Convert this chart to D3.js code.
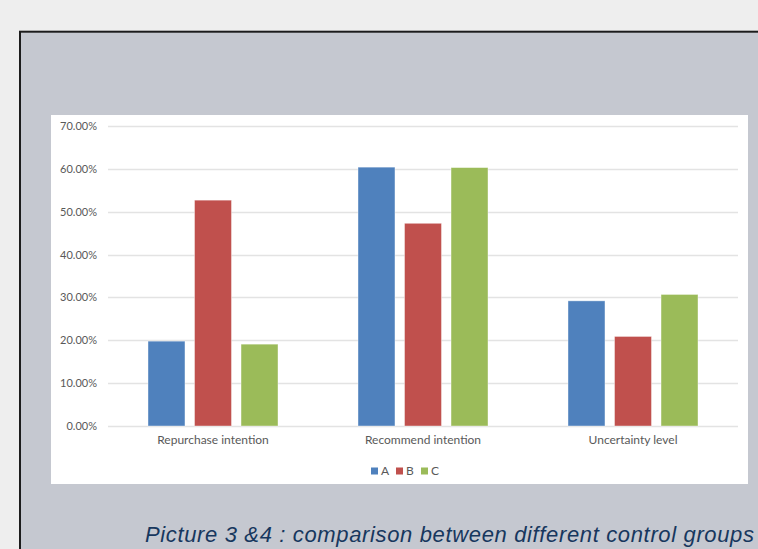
<!DOCTYPE html>
<html>
<head>
<meta charset="utf-8">
<script src="https://cdn.jsdelivr.net/npm/d3@7"></script>
<style>
  html, body { margin: 0; padding: 0; background: #eeeeee; overflow: hidden; }
  svg { display: block; }
</style>
</head>
<body>
<svg id="chart" width="758" height="549"></svg>
<script>
// Chart data
const categories = ["Repurchase intention", "Recommend intention", "Uncertainty level"];
const groups = ["A", "B", "C"];
const valuesA = [0.198, 0.604, 0.292];
const valuesB = [0.527, 0.473, 0.209];
const valuesC = [0.191, 0.603, 0.307];
const yTicks = [0, 0.1, 0.2, 0.3, 0.4, 0.5, 0.6, 0.7];
const colors = ["#4f81bd", "#c0504d", "#9bbb59"];
const caption = "Picture 3 &4 : comparison between different control groups";

const series = [valuesA, valuesB, valuesC];

const svg = d3.select("#chart");

// page background and framed panel
svg.append("rect").attr("x", 0).attr("y", 0).attr("width", 758).attr("height", 549).attr("fill", "#eeeeee");
svg.append("rect")
  .attr("x", 20).attr("y", 31.7).attr("width", 800).attr("height", 600)
  .attr("fill", "#c5c8d0").attr("stroke", "#1c1c1c").attr("stroke-width", 2);

// white chart area
svg.append("rect").attr("x", 51).attr("y", 115).attr("width", 697).attr("height", 369).attr("fill", "#ffffff");

const plot = { left: 108, right: 738, top: 126, bottom: 426 };

const y = d3.scaleLinear().domain([0, 0.7]).range([plot.bottom, plot.top]);
const x0 = d3.scaleBand().domain(categories).range([plot.left, plot.right]).padding(0);
const groupWidth = 130;
const x1 = d3.scaleBand().domain(groups).range([0, groupWidth]).paddingInner(0.205).paddingOuter(0);

// gridlines
svg.append("g")
  .selectAll("line")
  .data(yTicks)
  .join("line")
  .attr("x1", plot.left).attr("x2", plot.right)
  .attr("y1", d => Math.round(y(d)) + 0.5).attr("y2", d => Math.round(y(d)) + 0.5)
  .attr("stroke", "#e3e3e3").attr("stroke-width", 1.3);

// y axis labels
const yAxis = d3.axisLeft(y).tickValues(yTicks).tickFormat(d3.format(".2%")).tickSize(0).tickPadding(0);
const gy = svg.append("g").attr("transform", `translate(97,0)`).call(yAxis);
gy.select(".domain").remove();
gy.selectAll("text")
  .attr("fill", "#595959")
  .attr("font-family", "Lato, 'Open Sans', sans-serif")
  .attr("font-size", 11);

// bars
const catGroups = svg.append("g")
  .selectAll("g")
  .data(categories)
  .join("g")
  .attr("transform", d => `translate(${x0(d) + (x0.bandwidth() - groupWidth) / 2},0)`);

catGroups.selectAll("rect")
  .data((d, i) => groups.map((g, s) => ({ g, s, v: series[s][i] })))
  .join("rect")
  .attr("x", d => x1(d.g))
  .attr("width", x1.bandwidth())
  .attr("y", d => y(d.v))
  .attr("height", d => y(0) - y(d.v))
  .attr("fill", d => colors[d.s])
  .attr("stroke", "#ffffff").attr("stroke-opacity", 0.5).attr("stroke-width", 0.8);

// category axis labels
const xAxis = d3.axisBottom(x0).tickSize(0).tickPadding(0);
const gx = svg.append("g").attr("transform", `translate(0,${plot.bottom + 9})`).call(xAxis);
gx.select(".domain").remove();
gx.selectAll("text")
  .attr("fill", "#595959")
  .attr("font-family", "Lato, 'Open Sans', sans-serif")
  .attr("font-size", 12);

// legend
const legendX = [371, 396, 421];
const legend = svg.append("g")
  .selectAll("g")
  .data(groups)
  .join("g")
  .attr("transform", (d, i) => `translate(${legendX[i]},471)`);
legend.append("rect")
  .attr("x", 0).attr("y", -3.5).attr("width", 7).attr("height", 7)
  .attr("fill", (d, i) => colors[i]);
legend.append("text")
  .attr("x", 10).attr("y", 0).attr("dy", "0.35em")
  .attr("fill", "#595959")
  .attr("font-family", "Lato, 'Open Sans', sans-serif")
  .attr("font-size", 12)
  .text(d => d);

// caption
svg.append("text")
  .attr("x", 145).attr("y", 542)
  .attr("fill", "#17375e")
  .attr("font-family", "'Liberation Sans', Arial, sans-serif")
  .attr("font-style", "italic")
  .attr("font-size", 22)
  .attr("textLength", 609)
  .attr("lengthAdjust", "spacing")
  .text(caption);
</script>
</body>
</html>
